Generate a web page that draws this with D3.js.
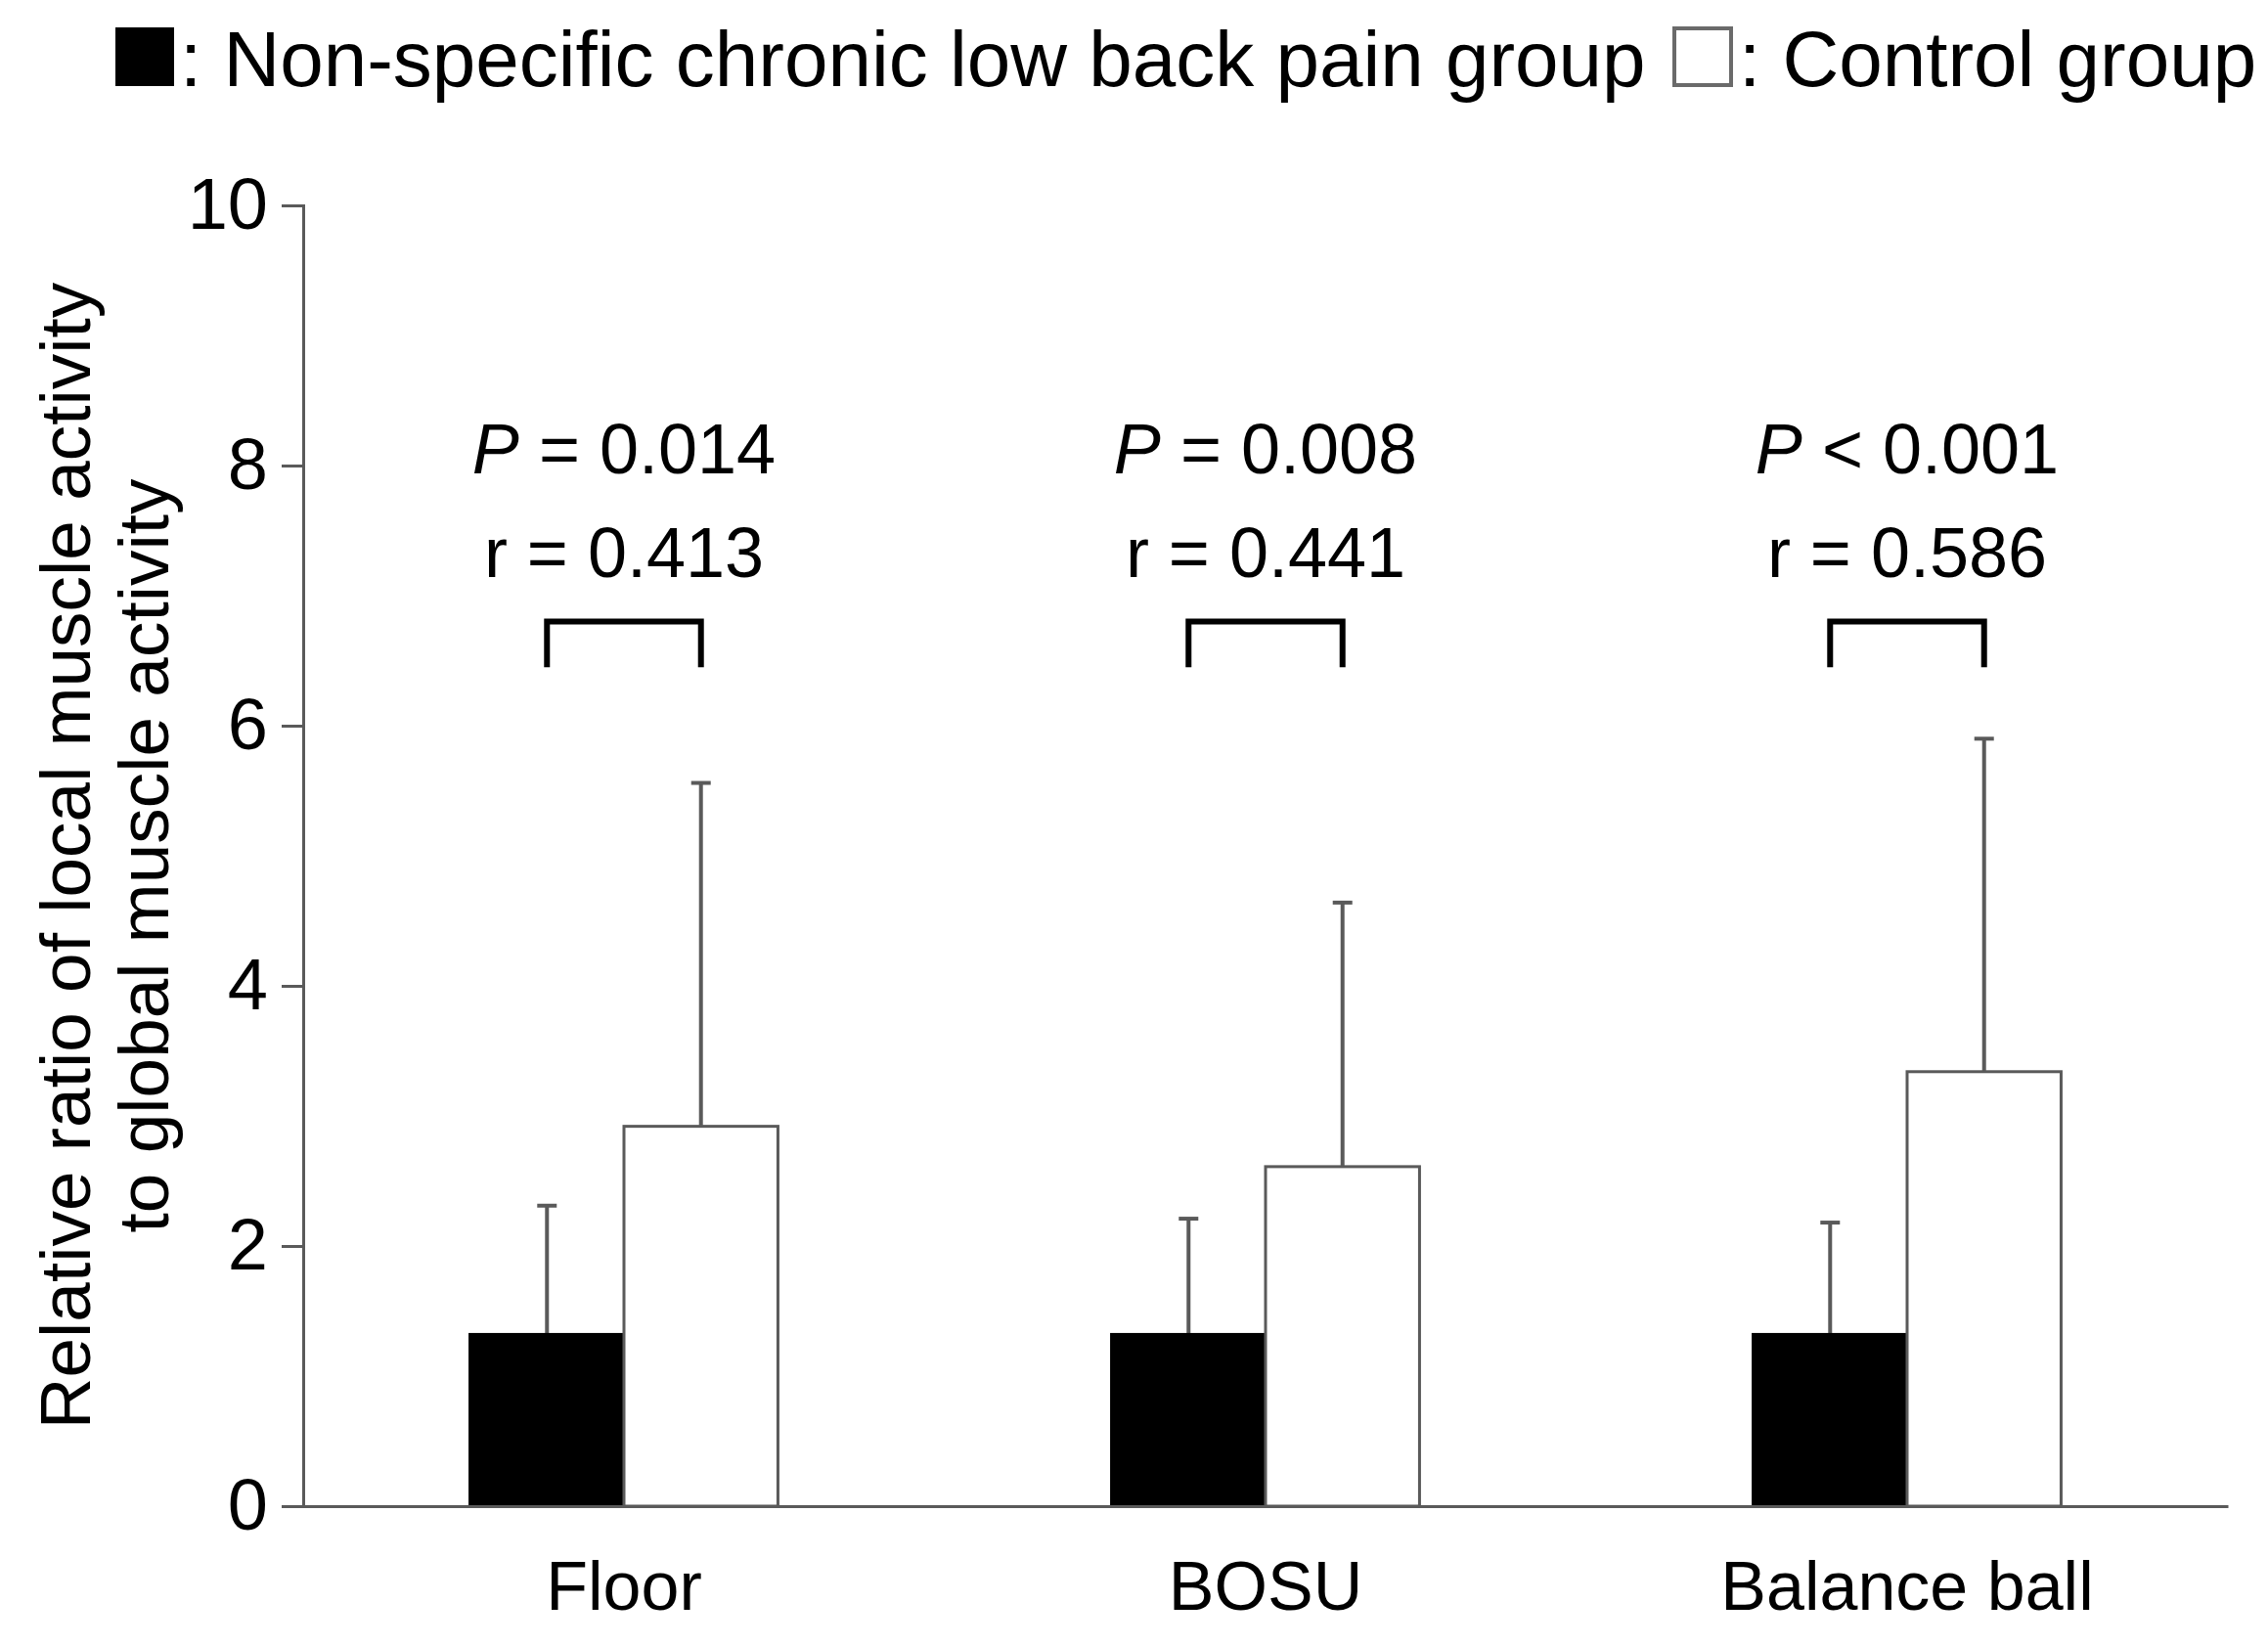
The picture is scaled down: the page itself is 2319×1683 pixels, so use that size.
<!DOCTYPE html>
<html>
<head>
<meta charset="utf-8">
<script src="https://cdn.jsdelivr.net/npm/d3@7"></script>
<style>
  body { margin: 0; background: #fff; }
  text { font-family: "Liberation Sans", Arial, sans-serif; fill: #000; }
</style>
</head>
<body>
<div class="chart"></div>
<script>
// data
let categories = ["Floor", "BOSU", "Balance ball"];
let groups = ["pain", "control"];
let painMeans = [1.32, 1.32, 1.32];
let painSD = [0.99, 0.89, 0.86];
let controlMeans = [2.92, 2.61, 3.34];
let controlSD = [2.64, 2.03, 2.56];
let pLabels = ["= 0.014", "= 0.008", "< 0.001"];
let rLabels = ["r = 0.413", "r = 0.441", "r = 0.586"];
let yTicks = [0, 2, 4, 6, 8, 10];

let width = 2319;
let height = 1683;

let svg = d3
  .select(".chart")
  .append("svg")
  .attr("width", width)
  .attr("height", height);

// scales
let y = d3.scaleLinear().domain([0, 10]).range([1540, 210]);
let x = d3
  .scaleBand()
  .domain(categories)
  .range([310, 2278])
  .paddingInner(0.52)
  .paddingOuter(0.26);
let xSub = d3.scaleBand().domain(groups).range([0, x.bandwidth()]);

let rows = categories.map(function (c, i) {
  return [
    { cat: c, group: "pain", mean: painMeans[i], sd: painSD[i] },
    { cat: c, group: "control", mean: controlMeans[i], sd: controlSD[i] },
  ];
});
let bars = rows.flat();

// y axis
let yAxis = svg
  .append("g")
  .attr("transform", "translate(310,0)")
  .call(d3.axisLeft(y).tickValues(yTicks).tickSize(22).tickPadding(14));
yAxis.selectAll("path, line").attr("stroke", "#5a5a5a").attr("stroke-width", 3);
yAxis.selectAll("text").attr("font-size", 74).attr("font-family", "Liberation Sans");

// y axis title
let yTitle = svg
  .append("text")
  .attr("transform", "translate(0,875) rotate(-90)")
  .attr("text-anchor", "middle")
  .attr("font-size", 73);
yTitle.append("tspan").attr("x", 0).attr("y", 92).text("Relative ratio of local muscle activity");
yTitle.append("tspan").attr("x", 0).attr("y", 172).text("to global muscle activity");

// error bars (upper only)
let err = svg.append("g").attr("stroke", "#5a5a5a").attr("stroke-width", 4);
bars.forEach(function (d) {
  let cx = x(d.cat) + xSub(d.group) + xSub.bandwidth() / 2;
  err
    .append("line")
    .attr("x1", cx)
    .attr("x2", cx)
    .attr("y1", y(d.mean))
    .attr("y2", y(d.mean + d.sd));
  err
    .append("line")
    .attr("x1", cx - 10)
    .attr("x2", cx + 10)
    .attr("y1", y(d.mean + d.sd))
    .attr("y2", y(d.mean + d.sd));
});

// bars
svg
  .append("g")
  .selectAll("rect")
  .data(bars)
  .enter()
  .append("rect")
  .attr("x", (d) => x(d.cat) + xSub(d.group))
  .attr("y", (d) => y(d.mean))
  .attr("width", xSub.bandwidth())
  .attr("height", (d) => y(0) - y(d.mean))
  .attr("fill", (d) => (d.group === "pain" ? "#000" : "#fff"))
  .attr("stroke", (d) => (d.group === "pain" ? "#000" : "#5a5a5a"))
  .attr("stroke-width", 3);

// x axis
let xAxis = svg
  .append("g")
  .attr("transform", "translate(0,1540)")
  .call(d3.axisBottom(x).tickSize(0).tickPadding(56));
xAxis.select(".domain").attr("stroke", "#5a5a5a").attr("stroke-width", 3);
xAxis.selectAll("text").attr("font-size", 70).attr("font-family", "Liberation Sans");

// significance brackets and labels
categories.forEach(function (c, i) {
  let x1 = x(c) + xSub("pain") + xSub.bandwidth() / 2;
  let x2 = x(c) + xSub("control") + xSub.bandwidth() / 2;
  let cx = x(c) + x.bandwidth() / 2;
  svg
    .append("path")
    .attr(
      "d",
      "M" + x1 + "," + y(6.45) + "V" + y(6.8) + "H" + x2 + "V" + y(6.45)
    )
    .attr("fill", "none")
    .attr("stroke", "#000")
    .attr("stroke-width", 6);

  let pt = svg
    .append("text")
    .attr("x", cx)
    .attr("y", y(7.94))
    .attr("text-anchor", "middle")
    .attr("font-size", 72);
  pt.append("tspan").attr("font-style", "italic").text("P");
  pt.append("tspan").text(" " + pLabels[i]);

  svg
    .append("text")
    .attr("x", cx)
    .attr("y", y(7.14))
    .attr("text-anchor", "middle")
    .attr("font-size", 72)
    .text(rLabels[i]);
});

// legend
let legend = svg.append("g");
legend
  .append("rect")
  .attr("x", 118)
  .attr("y", 28)
  .attr("width", 60)
  .attr("height", 60)
  .attr("fill", "#000");
legend
  .append("text")
  .attr("x", 184)
  .attr("y", 88)
  .attr("font-size", 80)
  .text(": Non-specific chronic low back pain group");
legend
  .append("rect")
  .attr("x", 1712)
  .attr("y", 29)
  .attr("width", 58)
  .attr("height", 58)
  .attr("fill", "#fff")
  .attr("stroke", "#6a6a6a")
  .attr("stroke-width", 4);
legend
  .append("text")
  .attr("x", 1778)
  .attr("y", 88)
  .attr("font-size", 80)
  .text(": Control group");
</script>
</body>
</html>
